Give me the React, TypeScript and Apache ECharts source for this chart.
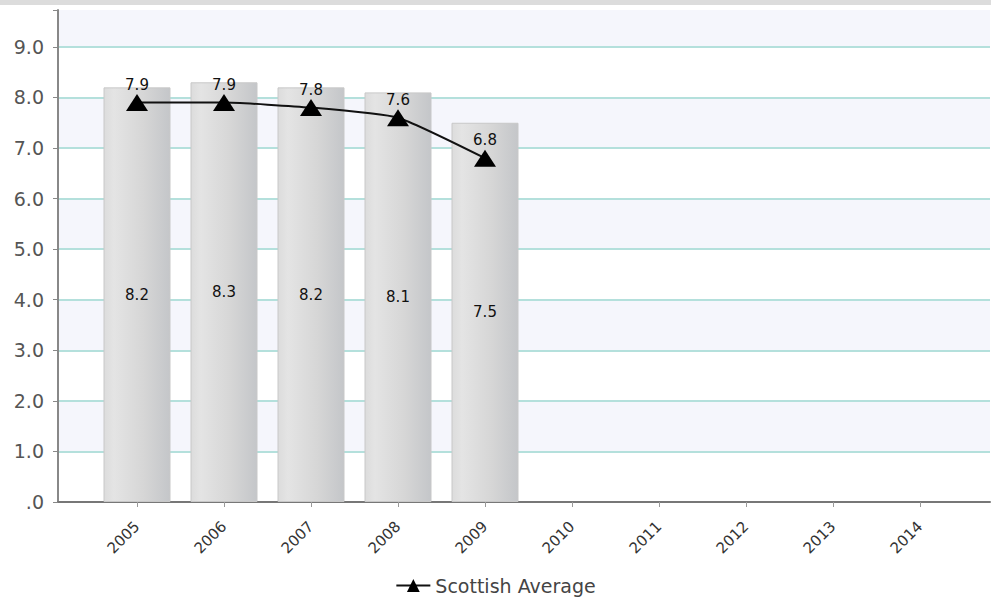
import React, { useEffect, useRef } from "react";
import * as echarts from "echarts";

const categories = ["2005", "2006", "2007", "2008", "2009", "2010", "2011", "2012", "2013", "2014"];
const barValues = [8.2, 8.3, 8.2, 8.1, 7.5, null, null, null, null, null];
const scottishAverage = [7.9, 7.9, 7.8, 7.6, 6.8, null, null, null, null, null];
const yMin = 0;
const yMax = 9.73;

export default function App() {
  const ref = useRef<HTMLDivElement>(null);
  useEffect(() => {
    const chart = echarts.init(ref.current!, null, { renderer: "svg" });
    const font = "DejaVu Sans, Verdana, sans-serif";
    chart.setOption({
      animation: false,
      backgroundColor: "#ffffff",
      graphic: [
        { type: "rect", left: 0, top: 0, shape: { width: 991, height: 5 }, style: { fill: "#dcdcdc" }, z: 100 },
      ],
      grid: [
        { left: 58, right: 1, top: 10, bottom: 100 },
        { left: 93.5, right: 27.5, top: 10, bottom: 100 },
      ],
      legend: {
        bottom: 2,
        left: "center",
        data: ["Scottish Average"],
        itemWidth: 34,
        itemHeight: 16,
        itemGap: 4,
        textStyle: { fontFamily: font, fontSize: 19, color: "#444" },
      },
      xAxis: [
        {
          gridIndex: 0,
          type: "value",
          min: 0,
          max: 1,
          axisLine: { show: true, onZero: false, lineStyle: { color: "#777", width: 2 } },
          axisTick: { show: false },
          axisLabel: { show: false },
          splitLine: { show: false },
        },
        {
          gridIndex: 1,
          type: "category",
          data: categories,
          axisLine: { show: false },
          axisTick: { show: true, alignWithLabel: true, length: 5, lineStyle: { color: "#999" } },
          axisLabel: { rotate: 45, fontFamily: font, fontSize: 15, color: "#333", margin: 22 },
          splitLine: { show: false },
        },
      ],
      yAxis: [
        {
          gridIndex: 0,
          type: "value",
          min: yMin,
          max: yMax,
          interval: 1,
          axisLine: { show: true, lineStyle: { color: "#888", width: 2 } },
          axisTick: { show: true, length: 5, lineStyle: { color: "#888" } },
          axisLabel: {
            fontFamily: font,
            fontSize: 19,
            color: "#555",
            margin: 14,
            formatter: (v: number) => (Math.abs(v - Math.round(v)) > 1e-6 ? "" : v === 0 ? ".0" : v.toFixed(1)),
          },
          splitLine: { show: true, showMaxLine: false, lineStyle: { color: "#b4e0dc", width: 2 } },
          splitArea: { show: true, areaStyle: { color: ["#ffffff", "#f5f6fc"] } },
        },
        {
          gridIndex: 1,
          type: "value",
          min: yMin,
          max: yMax,
          show: false,
          splitLine: { show: false },
        },
      ],
      series: [
        {
          name: "Bars",
          type: "bar",
          xAxisIndex: 1,
          yAxisIndex: 1,
          data: barValues,
          barWidth: 67,
          itemStyle: {
            color: new echarts.graphic.LinearGradient(0, 0, 1, 0, [
              { offset: 0, color: "#dcdcdc" },
              { offset: 0.15, color: "#e4e4e4" },
              { offset: 0.6, color: "#d6d6d6" },
              { offset: 1, color: "#c4c6c9" },
            ]),
            borderColor: "#c8c8c8",
            borderWidth: 1,
          },
          label: {
            show: true,
            position: "inside",
            fontFamily: font,
            fontSize: 15,
            color: "#111",
            formatter: (p: any) => Number(p.value).toFixed(1),
          },
          z: 2,
        },
        {
          name: "Scottish Average",
          type: "line",
          xAxisIndex: 1,
          yAxisIndex: 1,
          data: scottishAverage,
          smooth: 0.15,
          symbol: "triangle",
          symbolSize: [22, 17],
          lineStyle: { color: "#111", width: 2 },
          itemStyle: { color: "#000" },
          label: {
            show: true,
            position: "top",
            distance: 2,
            fontFamily: font,
            fontSize: 15,
            color: "#111",
            formatter: (p: any) => Number(p.value).toFixed(1),
          },
          z: 5,
        },
      ],
    });
    return () => chart.dispose();
  }, []);
  return <div ref={ref} style={{ width: 991, height: 602, position: "absolute", left: 0, top: 0 }} />;
}
